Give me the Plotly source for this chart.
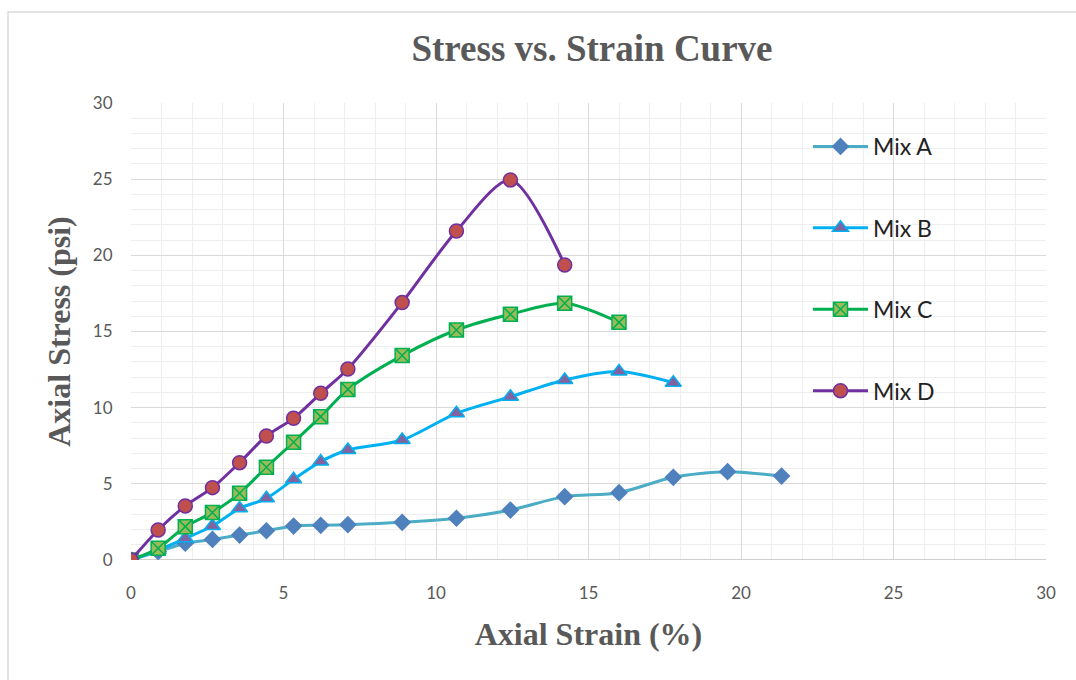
import plotly.graph_objects as go

strain = [0, 0.89, 1.78, 2.67, 3.56, 4.44, 5.33, 6.22, 7.11, 8.89, 10.67, 12.44, 14.22, 16.0, 17.78, 19.56, 21.33]

mix_a = [0, 0.55, 1.1, 1.35, 1.64, 1.92, 2.23, 2.28, 2.32, 2.47, 2.74, 3.28, 4.16, 4.42, 5.43, 5.8, 5.51]
mix_b = [0, 0.65, 1.42, 2.23, 3.39, 4.05, 5.3, 6.46, 7.22, 7.88, 9.63, 10.72, 11.82, 12.37, 11.64]
mix_c = [0, 0.77, 2.19, 3.11, 4.38, 6.09, 7.73, 9.41, 11.2, 13.42, 15.1, 16.13, 16.85, 15.6]
mix_d = [0, 1.97, 3.55, 4.75, 6.39, 8.14, 9.3, 10.94, 12.54, 16.9, 21.6, 24.95, 19.37]

names = ["Mix A", "Mix B", "Mix C", "Mix D"]
series = [mix_a, mix_b, mix_c, mix_d]
line_colors = ["#4BACC6", "#00B0F0", "#00B050", "#7030A0"]
marker_fill = ["#4F81BD", "#8064A2", "#9BBB59", "#C0504D"]
marker_line = ["#4F81BD", "#00B0F0", "#00B050", "#7030A0"]
symbols = ["diamond", "triangle-up", "square-x", "circle"]
sizes = [12, 14, 14, 14]

fig = go.Figure()
for i, (n, ys) in enumerate(zip(names, series)):
    fig.add_trace(go.Scatter(
        x=strain[:len(ys)], y=ys, name=n, mode="lines+markers",
        legendgroup=n,
        line=dict(color=line_colors[i], width=3, shape="spline", smoothing=0.8),
        marker=dict(symbol=symbols[i], size=sizes[i], color=marker_fill[i],
                    line=dict(color=marker_line[i], width=1.5)),
    ))

W, H = 1076, 680
L, R, T, B = 131, 30, 103, 120
pw, ph = W - L - R, H - T - B

def px2paper_x(px):
    return (px - L) / pw

def px2paper_y(py):
    return (H - B - py) / ph

fig.add_shape(type="rect", xref="paper", yref="paper",
              x0=px2paper_x(783), x1=px2paper_x(968), y0=px2paper_y(433), y1=1.0,
              fillcolor="white", line=dict(width=0), layer="between")
fig.add_shape(type="rect", xref="paper", yref="paper",
              x0=px2paper_x(8), x1=px2paper_x(1090), y0=px2paper_y(700), y1=px2paper_y(12),
              fillcolor="rgba(0,0,0,0)", line=dict(color="#D9D9D9", width=1.5), layer="above")

axis_common = dict(
    showgrid=True, gridcolor="#D9D9D9", gridwidth=1,
    zeroline=False, showline=False, ticks="outside", tickcolor="rgba(0,0,0,0)",
    tickfont=dict(family="Lato, sans-serif", size=17, color="#595959"),
    minor=dict(dtick=1, showgrid=True, gridcolor="#EEEEEE", gridwidth=1),
)

fig.update_layout(
    width=W, height=H,
    margin=dict(l=L, r=R, t=T, b=B),
    paper_bgcolor="white", plot_bgcolor="white",
    title=dict(text="<b>Stress vs. Strain Curve</b>", x=592 / W,
               xanchor="center", y=1 - 48 / H, yanchor="middle",
               font=dict(family="Liberation Serif, serif", size=37, color="#595959")),
    xaxis=dict(range=[0, 30], dtick=5, ticklen=18, **axis_common,
               title=dict(text="<b>Axial Strain (%)</b>", standoff=20,
                          font=dict(family="Liberation Serif, serif", size=32, color="#595959"))),
    yaxis=dict(range=[0, 30], dtick=5, ticklen=14, **axis_common,
               title=dict(text="<b>Axial Stress (psi)</b>", standoff=12,
                          font=dict(family="Liberation Serif, serif", size=32, color="#595959"))),
    legend=dict(x=px2paper_x(808), y=px2paper_y(125), xanchor="left", yanchor="top",
                bgcolor="rgba(0,0,0,0)", tracegroupgap=48.5, itemwidth=55,
                font=dict(family="Lato, sans-serif", size=23, color="#222222")),
)
fig.add_shape(type="line", xref="x", yref="y", x0=0, x1=30, y0=0, y1=0,
              line=dict(color="#BFBFBF", width=1.5), layer="between")

fig.write_html("out.html")
